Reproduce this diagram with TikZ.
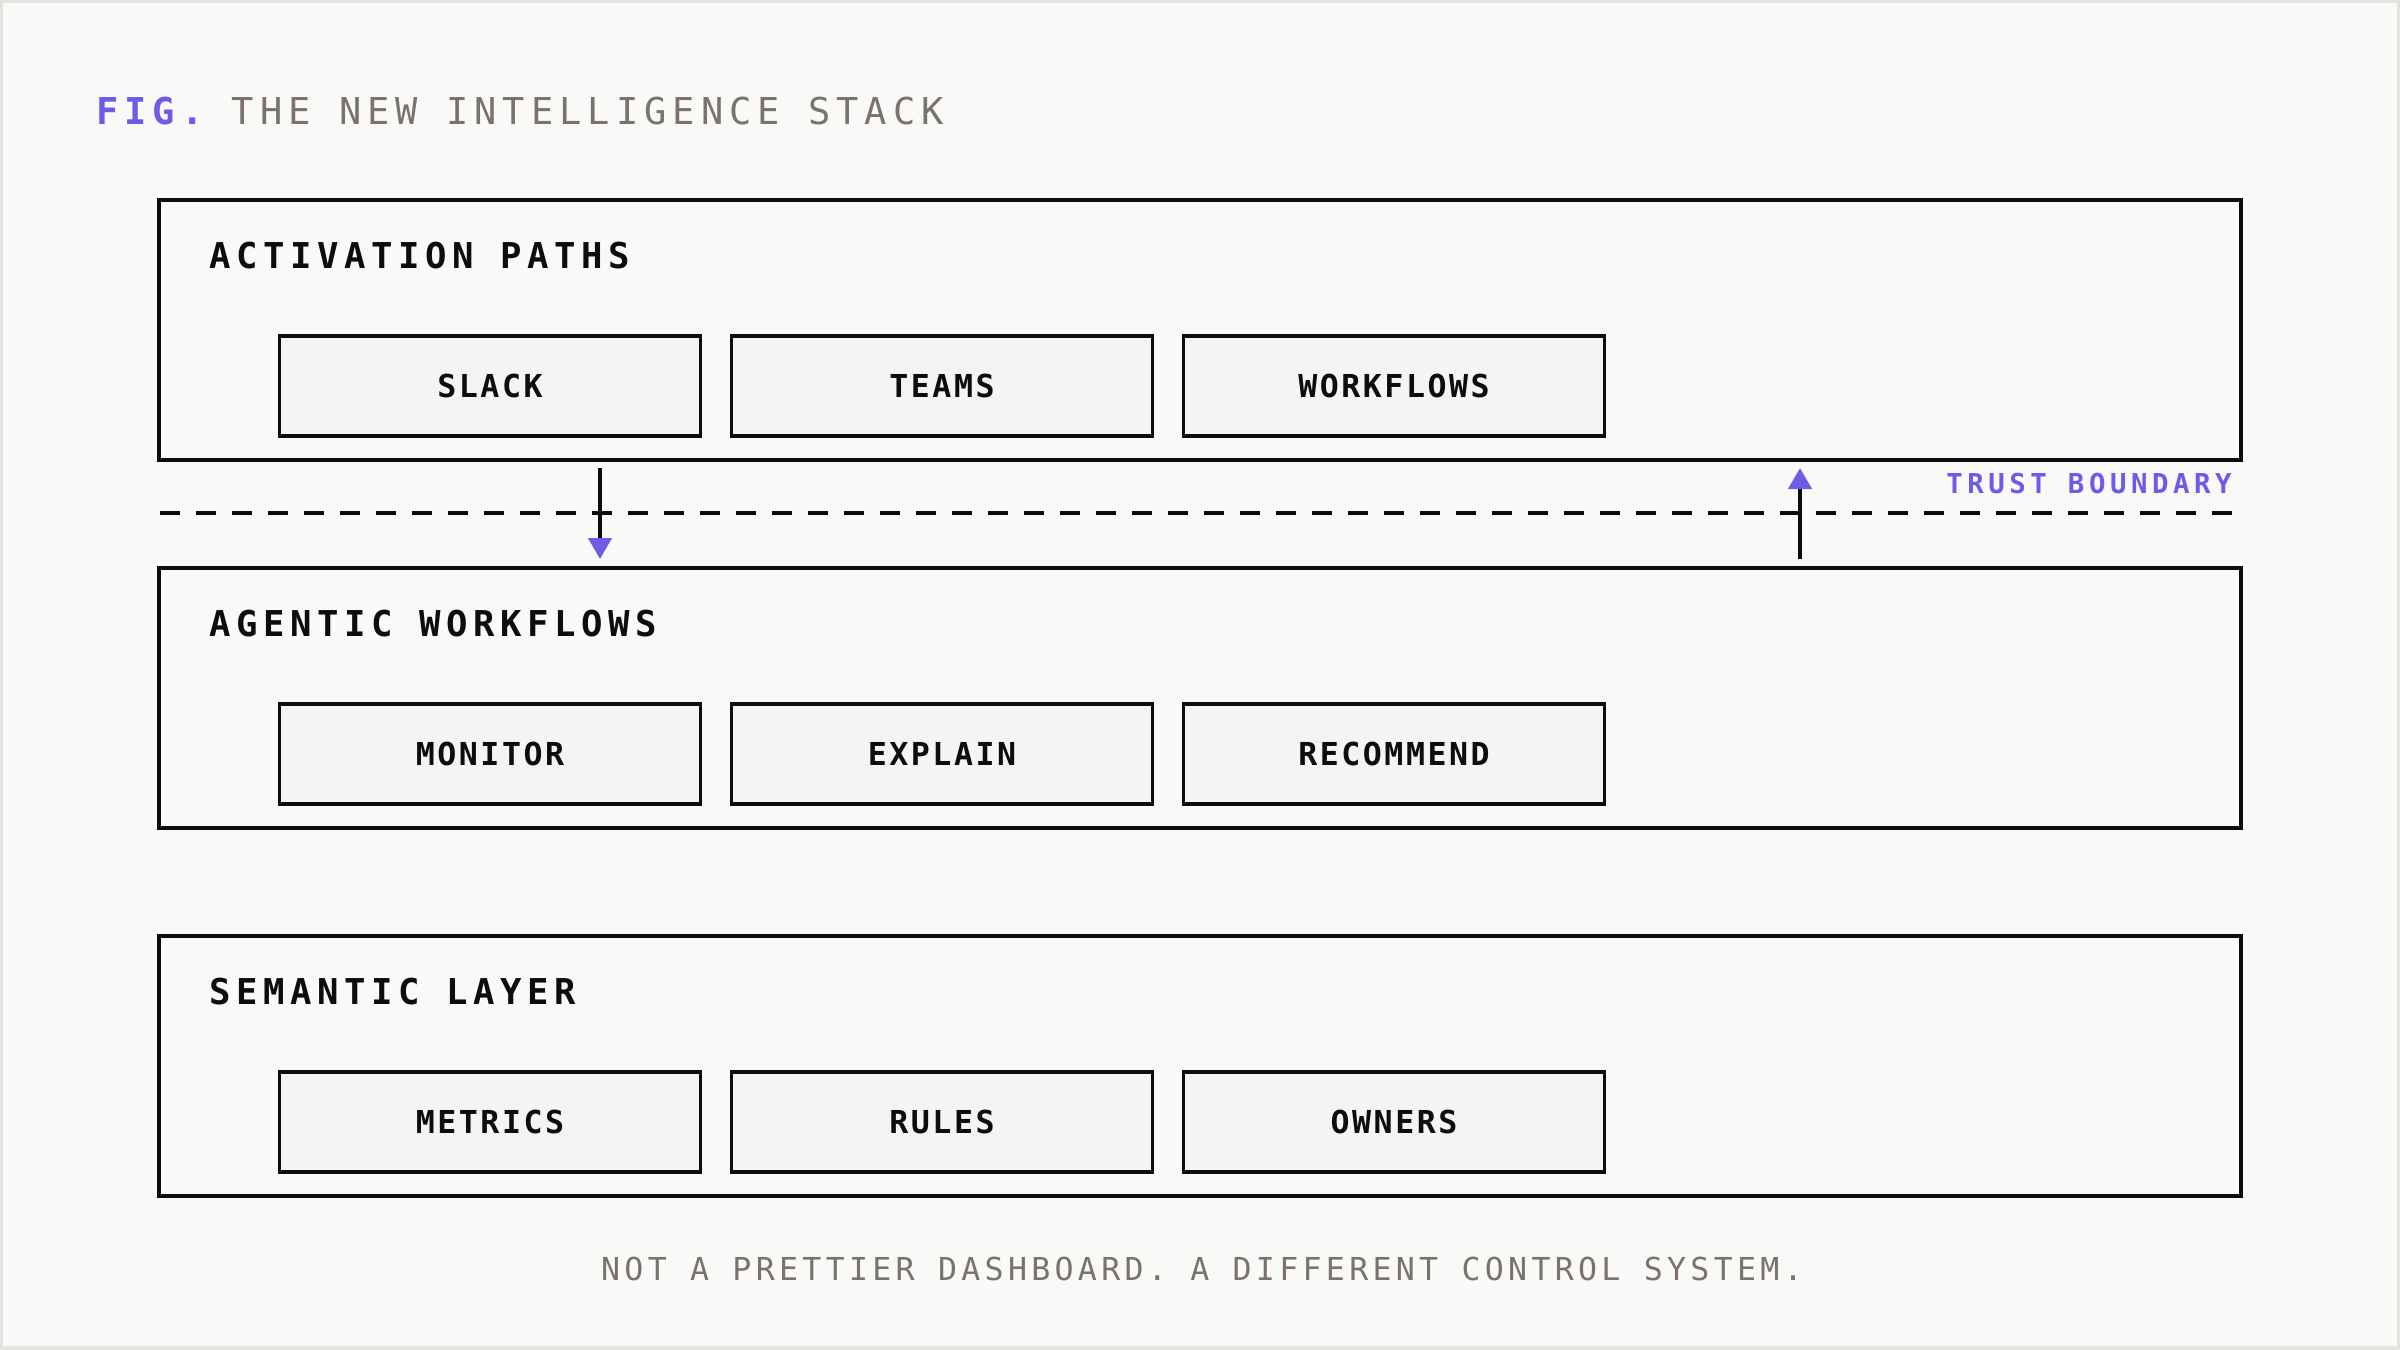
\documentclass[tikz,border=0pt]{standalone}
\usepackage{fontspec}
\newfontfamily\monof{DejaVu Sans Mono}
\usetikzlibrary{arrows.meta}
\definecolor{bgc}{HTML}{F9F9F7}
\definecolor{edgec}{HTML}{E4E3E0}
\definecolor{itemfill}{HTML}{F4F4F2}
\definecolor{ink}{HTML}{0D0D0D}
\definecolor{greytext}{HTML}{7A726B}
\definecolor{accent}{HTML}{6C5CE7}
\tikzset{
  layerbox/.style={draw=ink, line width=2.3pt, minimum width=1041pt, minimum height=130pt, inner sep=0pt, outer sep=0pt},
  itembox/.style={draw=ink, line width=1.9pt, fill=itemfill, minimum width=210.5pt, minimum height=50pt, inner sep=0pt, outer sep=0pt, text=ink,
    font=\monof\bfseries\fontsize{15.8pt}{18pt}\selectfont\addfontfeature{LetterSpace=8}},
  layerlabel/.style={anchor=base west, inner sep=0pt, text=ink,
    font=\monof\bfseries\fontsize{17.8pt}{20pt}\selectfont\addfontfeature{LetterSpace=15.6}},
  titletext/.style={anchor=base west, inner sep=0pt, text=greytext,
    font=\monof\fontsize{18.5pt}{20pt}\selectfont\addfontfeature{LetterSpace=16.3}},
  trusttext/.style={anchor=base east, inner sep=0pt, text=accent,
    font=\monof\bfseries\fontsize{13.7pt}{16pt}\selectfont\addfontfeature{LetterSpace=16.5}},
  foottext/.style={anchor=base, inner sep=0pt, text=greytext,
    font=\monof\fontsize{15.8pt}{18pt}\selectfont\addfontfeature{LetterSpace=13.6}},
  boundary/.style={draw=ink, line width=2pt, dash pattern=on 10pt off 8pt},
  flow/.style={draw=ink, line width=2.2pt, -{Triangle[width=11.5pt, length=10.5pt, color=accent]}},
}
\begin{document}
\begin{tikzpicture}[x=0.5pt, y=-0.5pt]
  \useasboundingbox (0,0) rectangle (2400,1350);
  \fill[edgec] (0,0) rectangle (2400,1350);
  \fill[bgc] (3,3) rectangle (2397,1346);

  % title
  \node[titletext] (title) at (96,124) {\textcolor{accent}{\bfseries FIG.} THE NEW INTELLIGENCE STACK};

  % layers
  \node[layerbox] (L1) at (1200,330) {};
  \node[layerbox] (L2) at (1200,698) {};
  \node[layerbox] (L3) at (1200,1066) {};

  \node[layerlabel] (L1t) at (209,268) {ACTIVATION PATHS};
  \node[layerlabel] (L2t) at (209,636) {AGENTIC WORKFLOWS};
  \node[layerlabel] (L3t) at (209,1004) {SEMANTIC LAYER};

  % items
  \node[itembox] (slack) at (490,386) {SLACK};
  \node[itembox] (teams) at (942,386) {TEAMS};
  \node[itembox] (wf) at (1394,386) {WORKFLOWS};

  \node[itembox] (monitor) at (490,754) {MONITOR};
  \node[itembox] (explain) at (942,754) {EXPLAIN};
  \node[itembox] (recommend) at (1394,754) {RECOMMEND};

  \node[itembox] (metrics) at (490,1122) {METRICS};
  \node[itembox] (rules) at (942,1122) {RULES};
  \node[itembox] (owners) at (1394,1122) {OWNERS};

  % trust boundary
  \coordinate (bL) at (160,513);
  \coordinate (bR) at (2232,513);
  \draw[boundary] (bL) -- (bR);
  \node[trusttext] (trust) at (2232,493) {TRUST BOUNDARY};

  % arrows
  \draw[flow, shorten <=4pt, shorten >=4.5pt] ([xshift=-300pt]L1.south) -- ([xshift=-300pt]L2.north);
  \draw[flow, shorten <=4.5pt, shorten >=4pt] ([xshift=300pt]L2.north) -- ([xshift=300pt]L1.south);

  % footer
  \node[foottext] (foot) at (1202,1280) {NOT A PRETTIER DASHBOARD. A DIFFERENT CONTROL SYSTEM.};
\end{tikzpicture}
\end{document}
